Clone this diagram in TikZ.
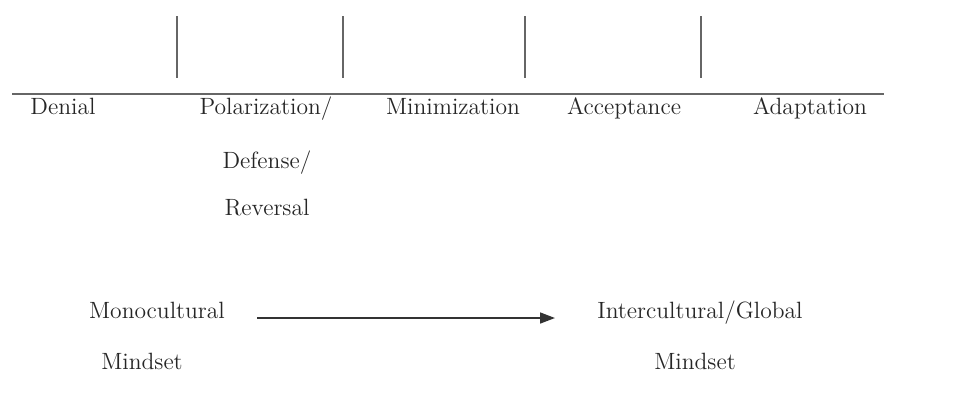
\documentclass[tikz,border=0pt]{standalone}
\usepackage{amsmath,amssymb}
\usepackage{tikz}
\usetikzlibrary{arrows.meta}

\begin{document}
\begin{tikzpicture}[x=0.02cm,y=-0.02cm,
  stage/.style={anchor=base,inner sep=0pt,text=black!85,font=\fontsize{13.4}{16}\selectfont},
  scale line/.style={draw=black!60,line width=1pt},
  shift arrow/.style={draw=black!80,line width=1pt,-{Triangle[length=8.5pt,width=6.2pt]}}]
\useasboundingbox (0,0) rectangle (976,392);
% continuum
\coordinate (lineL) at (12,94);
\coordinate (lineR) at (884,94);
\draw[scale line] (lineL) -- (lineR);
\foreach \tx in {177,343,525,701}
  \draw[scale line] (\tx,16) -- (\tx,78);
% stages
\node[stage] (denial) at (63,114) {Denial};
\node[stage] (polar) at (266,114) {Polarization/};
\node[stage] (defense) at (267,168) {Defense/};
\node[stage] (reversal) at (267,215) {Reversal};
\node[stage] (minim) at (453,114) {Minimization};
\node[stage] (accept) at (624,114) {Acceptance};
\node[stage] (adapt) at (810,114) {Adaptation};
% mindsets
\node[stage] (mono) at (157,318) {Monocultural};
\node[stage] (monomind) at (142,369) {Mindset};
\node[stage] (inter) at (700,318) {Intercultural/Global};
\node[stage] (intermind) at (695,369) {Mindset};
\coordinate (arrowS) at (257,318);
\coordinate (arrowE) at (555,318);
\draw[shift arrow] (arrowS) -- (arrowE);
\end{tikzpicture}
\end{document}
